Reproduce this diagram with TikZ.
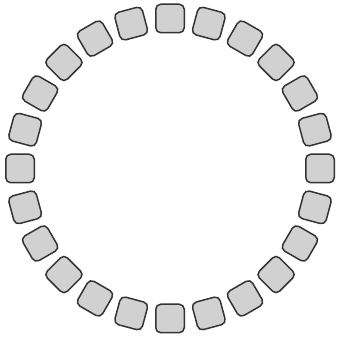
\documentclass[tikz,border=0pt]{standalone}
\usetikzlibrary{calc}
\begin{document}
\begin{tikzpicture}[x=1pt,y=1pt,
  seat/.style={draw=black!80, fill=black!18, line width=1.5pt, rounded corners=5pt,
    minimum width=28.5pt, minimum height=28.5pt, inner sep=0pt}]
\useasboundingbox (0,0) rectangle (338,339);
\coordinate (c) at (170,170.5);
\foreach \i in {0,...,23}{
  \pgfmathsetmacro{\a}{90-15*\i}
  \node[seat, rotate=\a-90] (s\i) at ($(c)+(\a:150)$) {};
}
\end{tikzpicture}
\end{document}
